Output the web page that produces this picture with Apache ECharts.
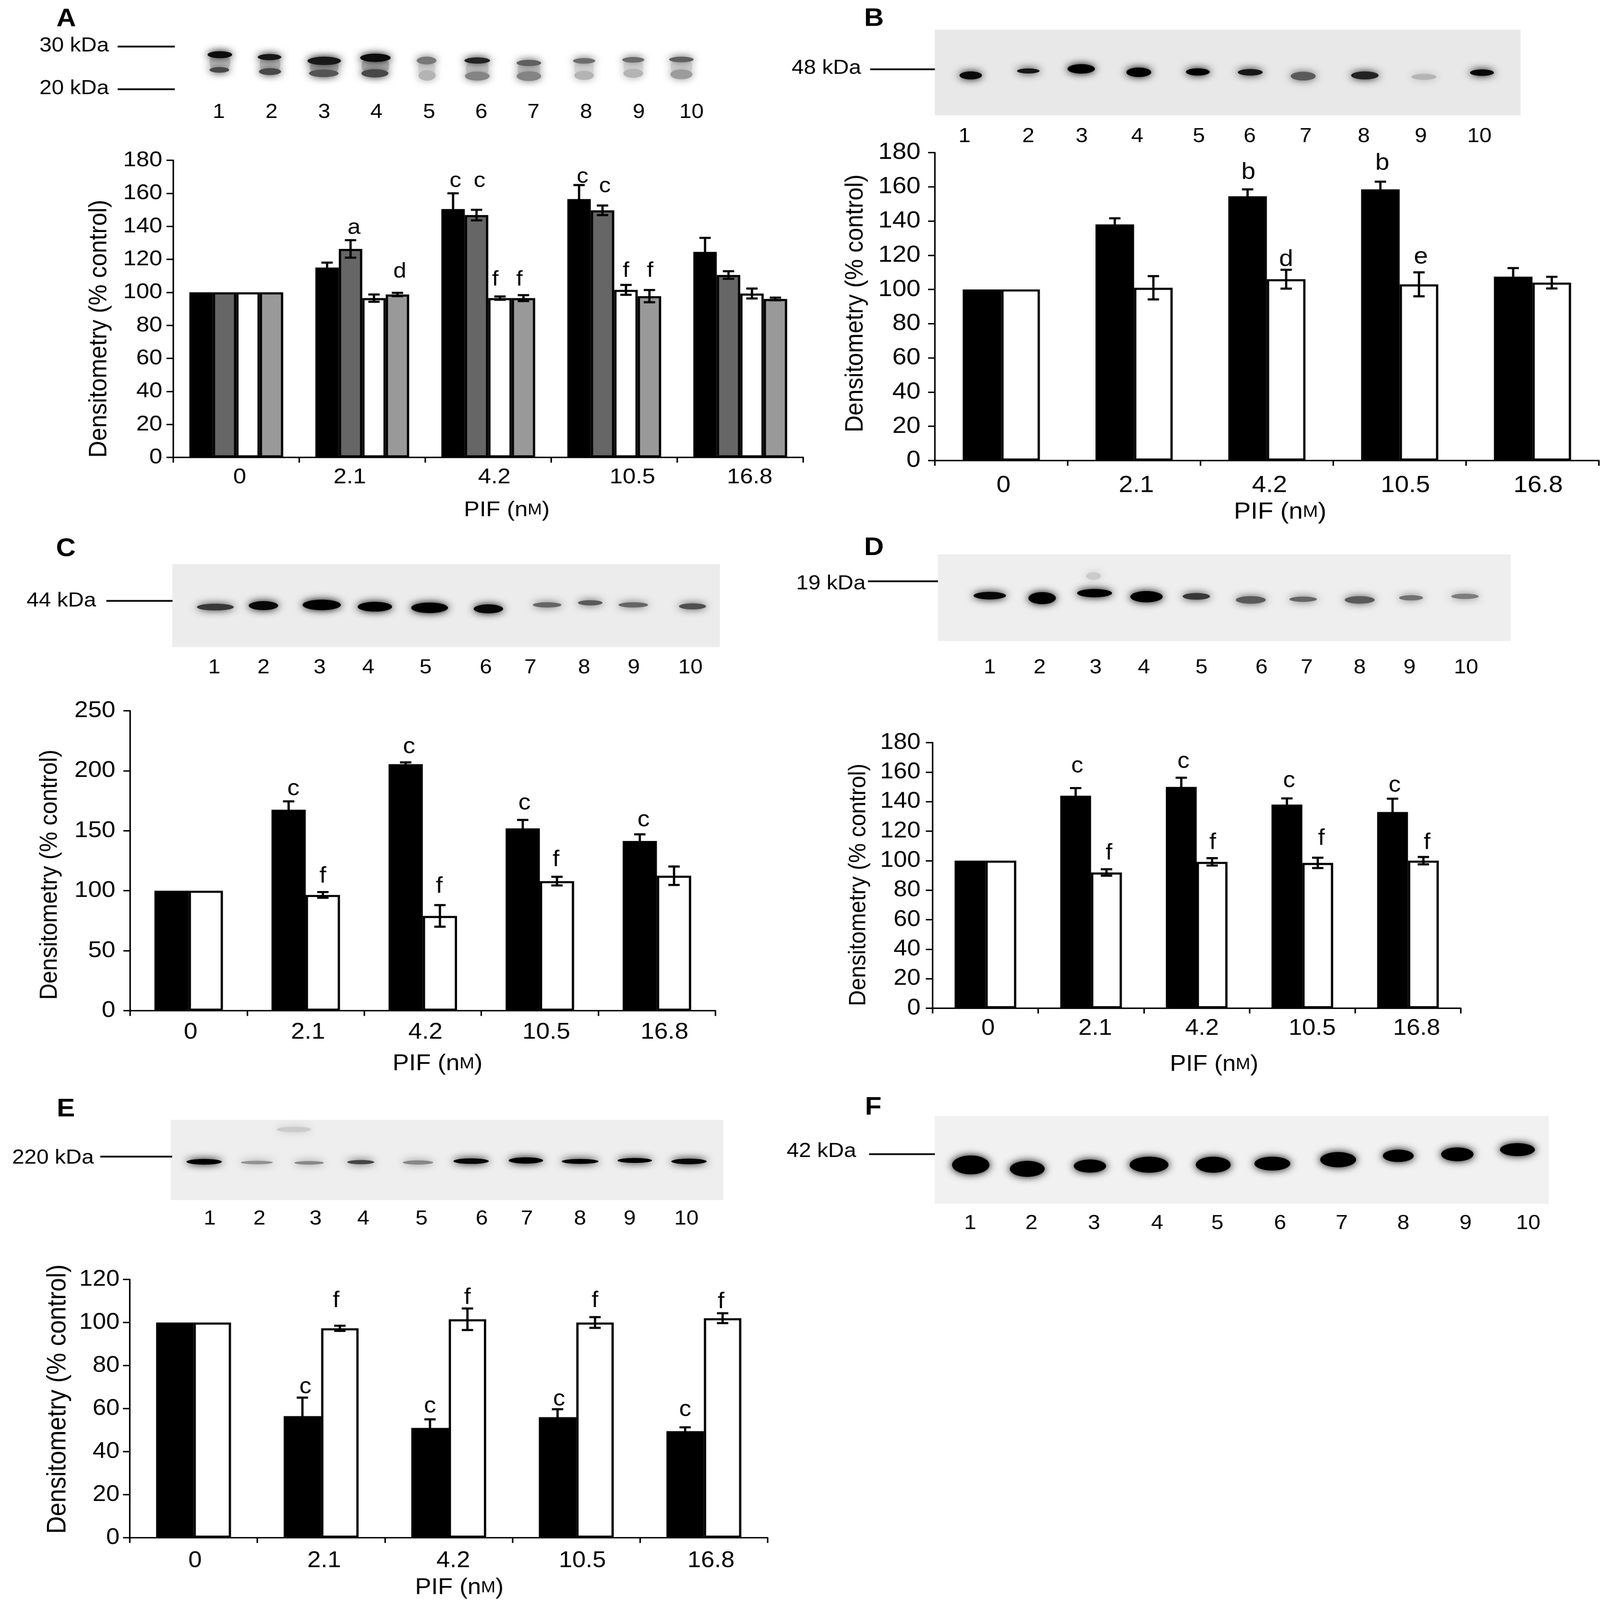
<!DOCTYPE html>
<html><head><meta charset="utf-8">
<style>html,body{margin:0;padding:0;background:#fff;overflow:hidden;width:100%;height:100%}#c{width:4229px;height:4572px;transform-origin:0 0}</style>
<script src="https://cdn.jsdelivr.net/npm/echarts@6/dist/echarts.min.js"></script>
</head><body><div id="c"></div>
<script>
const categories = ['0','2.1','4.2','10.5','16.8'];
const lanes = ['1','2','3','4','5','6','7','8','9','10'];
// Panel A
const A_black = [100,115,150.5,156.5,124.5];
const A_dark  = [100,126.3,146.8,149.7,110.5];
const A_white = [100,96.5,96.5,101.5,99.3];
const A_gray  = [100,98.7,96.5,97.7,96];
const A_black_err = [0,3,9.5,8.5,8.5];
const A_dark_err  = [0,5.3,3.2,2.9,2.3];
const A_white_err = [0,2.2,1,3,3];
const A_gray_err  = [0,1,1.8,3.7,0.8];
// Panel B
const B_black = [100,138,154.5,158.5,107.5];
const B_white = [100,101,106,103,104];
const B_black_err = [0,3.6,4,4.5,5];
const B_white_err = [0,6.8,5.5,7,3.4];
// Panel C
const C_black = [100,167.5,205.5,152,141.5];
const C_white = [100,96.5,79,108,112.5];
const C_black_err = [0,7,1.5,7,5.5];
const C_white_err = [0,2.4,9,3.6,7.7];
// Panel D
const D_black = [100,144,150,138,133];
const D_white = [100,92,99.2,98.5,100];
const D_black_err = [0,5.2,6.2,4.2,9];
const D_white_err = [0,2.2,2.5,3.5,2.5];
// Panel E
const E_black = [100,56.5,51,56,49.5];
const E_white = [100,97.3,101.5,100,102];
const E_black_err = [0,8.6,4,3.7,1.8];
const E_white_err = [0,1.2,5,2.5,2.3];
// Significance letters: [category, offset in bar widths, value, letter]
const A_letters = [[1,-.35,139,'a'],[1,1.6,112.5,'d'],[2,-1.4,167.6,'c'],[2,-.37,167.6,'c'],[2,.3,107.7,'f'],[2,1.33,107.7,'f'],[3,-1.35,170,'c'],[3,-.4,164.3,'c'],[3,.5,113,'f'],[3,1.53,113,'f']];
const B_letters = [[2,-.48,168.5,'b'],[2,.5,117.5,'d'],[3,-.45,173.7,'b'],[3,.55,119,'e']];
const C_letters = [[1,-.36,185,'c'],[1,.5,112,'f'],[2,-.4,220,'c'],[2,.48,103.5,'f'],[3,-.45,173,'c'],[3,.47,125.6,'f'],[4,-.39,159,'c']];
const D_letters = [[1,-.45,164,'c'],[1,.58,105,'f'],[2,-.43,167,'c'],[2,.52,112,'f'],[3,-.43,154,'c'],[3,.62,115,'f'],[4,-.43,151,'c'],[4,.62,112,'f']];
const E_letters = [[1,.4,110,'f'],[1,-.42,70,'c'],[2,.5,111.5,'f'],[2,-.5,61,'c'],[3,.5,110,'f'],[3,-.46,64.3,'c'],[4,.46,109.6,'f'],[4,-.5,59.4,'c']];

const FONT = 'Liberation Sans';
const panels = [
 {series:[[A_black,A_black_err,'#000'],[A_dark,A_dark_err,'#666'],[A_white,A_white_err,'#fff'],[A_gray,A_gray_err,'#999']],letters:A_letters,
  x0:458,x1:2123,top:458,bot:1307,max:180,iv:20,barW:62,fs:62,lm:29,dx:[9,-33,16,48,25],xm:26,nameGap:120,nameDx:49,yGap:162,yDy:57,yFs:67},
 {series:[[B_black,B_black_err,'#000'],[B_white,B_white_err,'#fff']],letters:B_letters,
  x0:2471,x1:4226,top:436,bot:1316,max:180,iv:20,barW:102,fs:67,lm:38,dx:[6,6,7,15,15],xm:38,nameGap:114,nameDx:35,yGap:176,yDy:-9,yFs:67},
 {series:[[C_black,C_black_err,'#000'],[C_white,C_white_err,'#fff']],letters:C_letters,
  x0:344,x1:1891,top:2031,bot:2888,max:250,iv:50,barW:90.5,fs:65,lm:39,dx:[5,6,7,17,20],xm:30,nameGap:120,nameDx:39,yGap:179,yDy:40,yFs:65},
 {series:[[D_black,D_black_err,'#000'],[D_white,D_white_err,'#fff']],letters:D_letters,
  x0:2465,x1:3861,top:2122,bot:2881,max:180,iv:20,barW:81.5,fs:64,lm:32,dx:[7,11,14,26,23],xm:26,nameGap:129,nameDx:46,yGap:164,yDy:27,yFs:63},
 {series:[[E_black,E_black_err,'#000'],[E_white,E_white_err,'#fff']],letters:E_letters,
  x0:343,x1:2029,top:3656,bot:4394,max:120,iv:20,barW:99,fs:64,lm:27,dx:[4,8,12,16,19],xm:34,nameGap:111,nameDx:28,yGap:154,yDy:-27,yFs:70}
];

const grid=[],xAxis=[],yAxis=[],series=[];
panels.forEach((p,i)=>{
  grid.push({left:p.x0,top:p.top,width:p.x1-p.x0,height:p.bot-p.top,containLabel:false});
  const rich={};
  p.dx.forEach((d,k)=>{rich['l'+k]={fontFamily:FONT,fontSize:p.fs,color:'#000',padding:d>=0?[0,0,0,2*d]:[0,-2*d,0,0]};});
  xAxis.push({type:'category',gridIndex:i,data:categories,
    axisLine:{lineStyle:{color:'#000',width:4}},axisTick:{show:true,length:15,alignWithLabel:false,lineStyle:{color:'#000',width:4}},
    axisLabel:{interval:0,margin:p.xm,fontFamily:FONT,fontSize:p.fs,color:'#000',formatter:(v,k)=>`{l${k}|${v}}`,rich},
    name:'PIF (n{s|M})',nameLocation:'middle',nameGap:p.nameGap,
    nameTextStyle:{fontFamily:FONT,fontSize:p.fs,color:'#000',padding:[0,0,0,2*p.nameDx],rich:{s:{fontFamily:FONT,fontSize:Math.round(p.fs*.72),color:'#000'}}}});
  yAxis.push({type:'value',gridIndex:i,min:0,max:p.max,interval:p.iv,splitLine:{show:false},
    axisLine:{show:true,lineStyle:{color:'#000',width:4}},axisTick:{show:true,length:18,lineStyle:{color:'#000',width:4}},
    axisLabel:{margin:p.lm,fontFamily:FONT,fontSize:p.fs,color:'#000'},
    name:'Densitometry (% control)',nameLocation:'middle',nameGap:p.yGap,
    nameTextStyle:{fontFamily:FONT,fontSize:p.yFs,color:'#000',padding:p.yDy>=0?[0,2*p.yDy,0,0]:[0,0,0,-2*p.yDy]}});
  const n=p.series.length;
  p.series.forEach(s=>{
    series.push({type:'bar',xAxisIndex:i,yAxisIndex:i,data:s[0],barWidth:p.barW,barGap:0,silent:true,animation:false,
      itemStyle:{color:s[2],borderColor:'#000',borderWidth:6}});
  });
  const errData=[];
  p.series.forEach((s,j)=>s[0].forEach((v,c)=>{ if(s[1][c]>0) errData.push([c,j-(n-1)/2,v,s[1][c]]); }));
  series.push({type:'custom',xAxisIndex:i,yAxisIndex:i,silent:true,animation:false,z:5,clip:false,encode:{x:0,y:2},data:errData,
    renderItem:(params,api)=>{
      const c=api.value(0),off=api.value(1),v=api.value(2),e=api.value(3);
      const hi=api.coord([c,v+e]),lo=api.coord([c,v-e]);
      const x=hi[0]+off*p.barW,cap=15;
      const st={stroke:'#000',lineWidth:6,fill:null};
      return {type:'group',children:[
        {type:'line',shape:{x1:x,y1:hi[1],x2:x,y2:lo[1]},style:st},
        {type:'line',shape:{x1:x-cap,y1:hi[1],x2:x+cap,y2:hi[1]},style:st},
        {type:'line',shape:{x1:x-cap,y1:lo[1],x2:x+cap,y2:lo[1]},style:st}]};
    }});
  series.push({type:'custom',xAxisIndex:i,yAxisIndex:i,silent:true,animation:false,z:6,clip:false,encode:{x:0,y:2},
    data:p.letters.map(l=>[l[0],l[1],l[2]]),
    renderItem:(params,api)=>{
      const pt=api.coord([api.value(0),api.value(2)]);
      return {type:'text',style:{x:pt[0]+api.value(1)*p.barW,y:pt[1],text:p.letters[params.dataIndex][3],
        fill:'#000',font:`${p.fs}px "${FONT}"`,align:'center',verticalAlign:'middle'}};
    }});
});

// Blot images and labelling
const graphic=[];
function txt(text,x,y,size,opts){graphic.push({type:'text',silent:true,z:20,style:Object.assign({x,y,text,fill:'#000',font:`${size}px "${FONT}"`,align:'center',verticalAlign:'middle'},opts||{})});}
function hline(x1,x2,y){graphic.push({type:'line',silent:true,z:19,shape:{x1,y1:y,x2,y2:y},style:{stroke:'#000',lineWidth:5}});}
function blot(t,bg,bands,laneX,laneY,size,fill,base,grow){
  const X=v=>t[0]+v*t[1],Y=v=>t[2]+v*t[3];
  if(bg) graphic.push({type:'rect',silent:true,z:10,shape:{x:X(bg[0]),y:Y(bg[2]),width:(bg[1]-bg[0])*t[1],height:(bg[3]-bg[2])*t[3]},style:{fill:fill}});
  bands.forEach(b=>{
    const g=Math.round(base*(1-b[4]));
    const col=`rgb(${g},${g},${g})`;
    graphic.push({type:'ellipse',silent:true,z:11,shape:{cx:X(b[0]),cy:Y(b[1]),rx:b[2]/2*t[1]*.97,ry:b[3]/2*t[3]*grow},style:{fill:col,shadowBlur:22,shadowColor:col}});
  });
  laneX.forEach((x,k)=>txt(lanes[k],X(x),laneY,size));
}
blot([0,1.339,0,.9885],null,[
 [434,180,42,60,.2],[533,186,42,60,.2],[640,194,58,55,.25],[741,190,56,60,.25],[842,196,34,60,.1],[942,198,46,60,.15],[1044,201,46,55,.15],[1153,197,40,55,.08],[1250,193,40,55,.08],[1345,193,44,55,.1],
 [434,158,50,20,.95],[433,202,40,16,.7],[532,165,48,18,.9],[533,207,45,20,.7],[640,176,68,24,.9],[639,212,60,22,.65],
 [741,167,62,24,.95],[740,212,55,24,.7],[842,175,40,22,.5],[843,218,35,30,.25],[942,175,52,18,.85],[942,220,50,26,.45],
 [1044,182,50,18,.6],[1044,220,50,28,.45],[1153,176,45,16,.55],[1153,218,40,26,.25],[1250,173,45,16,.55],[1250,212,40,26,.25],
 [1345,172,50,16,.6],[1345,215,45,28,.35]],[432,536,640,743,847,950,1053,1157,1261,1365],321,58,null,240,1);
blot([2100,1.358,0,.9885],[273,1413,86,333],[
 [343,218,45,22,.95],[455,205,45,14,.9],[558,199,55,26,1],[670,209,50,26,1],[785,208,48,20,1],[887,209,50,18,.9],
 [990,220,50,24,.6],[1110,218,55,22,.85],[1225,222,50,16,.2],[1338,210,48,18,.97]],
 [331,455,559,667,787,886,995,1108,1219,1333],390,58,'#e8e8e8',225,1.05);
blot([0,1.339,1500,1.0204],[340,1421,110,342],[
 [425,230,75,18,.75],[520,226,60,24,.97],[635,224,78,28,1],[740,229,70,26,1],[848,232,75,28,1],[964,235,60,24,.97],
 [1080,224,58,14,.55],[1165,218,50,14,.6],[1250,224,60,14,.55],[1367,228,55,16,.65]],
 [423,520,631,727,840,959,1047,1153,1251,1363],1908,58,'#ececec',225,1.05);
blot([2100,1.358,1500,1.0204],[279,1394,82,325],[
 [582,143,30,20,.1],[380,198,65,20,.97],[482,205,55,32,1],[584,191,70,22,1],[685,201,65,30,1],[782,200,55,18,.75],
 [888,210,60,20,.6],[990,208,55,14,.55],[1100,210,60,20,.6],[1200,204,48,14,.5],[1305,200,55,14,.45]],
 [380,477,586,680,792,909,997,1100,1197,1307],1908,58,'#eeeeee',225,1.05);
blot([0,1.339,3080,.9515],[337,1428,126,367],[
 [580,155,70,16,.1],[403,252,72,16,1],[507,254,65,10,.35],[610,255,60,10,.4],[712,253,55,12,.7],[825,254,62,12,.4],
 [930,250,72,16,.97],[1038,248,70,18,1],[1145,251,75,14,1],[1253,248,70,14,1],[1360,251,72,16,.97]],
 [414,512,623,717,832,951,1040,1145,1243,1355],3483,58,'#eeeeee',225,1.05);
blot([2100,1.358,3080,.319],[273,1468,340,1128],[
 [343,780,75,130,1],[453,815,70,110,1],[575,790,65,90,1],[690,778,78,110,1],[815,778,70,110,1],[930,768,72,95,1],
 [1058,733,72,105,1],[1175,698,62,85,1],[1290,685,65,95,1],[1407,643,70,90,1]],
 [342,461,583,706,823,945,1065,1185,1306,1428],3496,58,'#f1f1f1',225,1.3);

const R={align:'right'};
txt('30 kDa',288,131,58,R);hline(311,462,133);
txt('20 kDa',288,253,58,R);hline(311,462,255);
txt('48 kDa',2276,195,58,R);hline(2300,2471,198);
txt('44 kDa',254,1717,58,R);hline(281,456,1717);
txt('19 kDa',2288,1668,58,R);hline(2294,2479,1661);
txt('220 kDa',248,3309,58,R);hline(265,455,3305);
txt('42 kDa',2263,3290,58,R);hline(2297,2471,3298);
const B=s=>({font:`bold ${s}px "${FONT}"`});
txt('A',175,55,72,B(72));txt('B',2310,54,72,B(72));txt('C',174,1569,72,B(72));
txt('D',2310,1566,72,B(72));txt('E',174,3170,72,B(72));txt('F',2308,3165,72,B(72));

const el=document.getElementById('c');
// The window can be smaller than the figure: fit the whole figure into it.
el.style.transform=`scale(${Math.min(1,innerWidth/4229)},${Math.min(1,innerHeight/4572)})`;
const chart=echarts.init(el,null,{renderer:'canvas',width:4229,height:4572});
chart.setOption({animation:false,backgroundColor:'#fff',grid,xAxis,yAxis,series,graphic:{elements:graphic}});
</script></body></html>
